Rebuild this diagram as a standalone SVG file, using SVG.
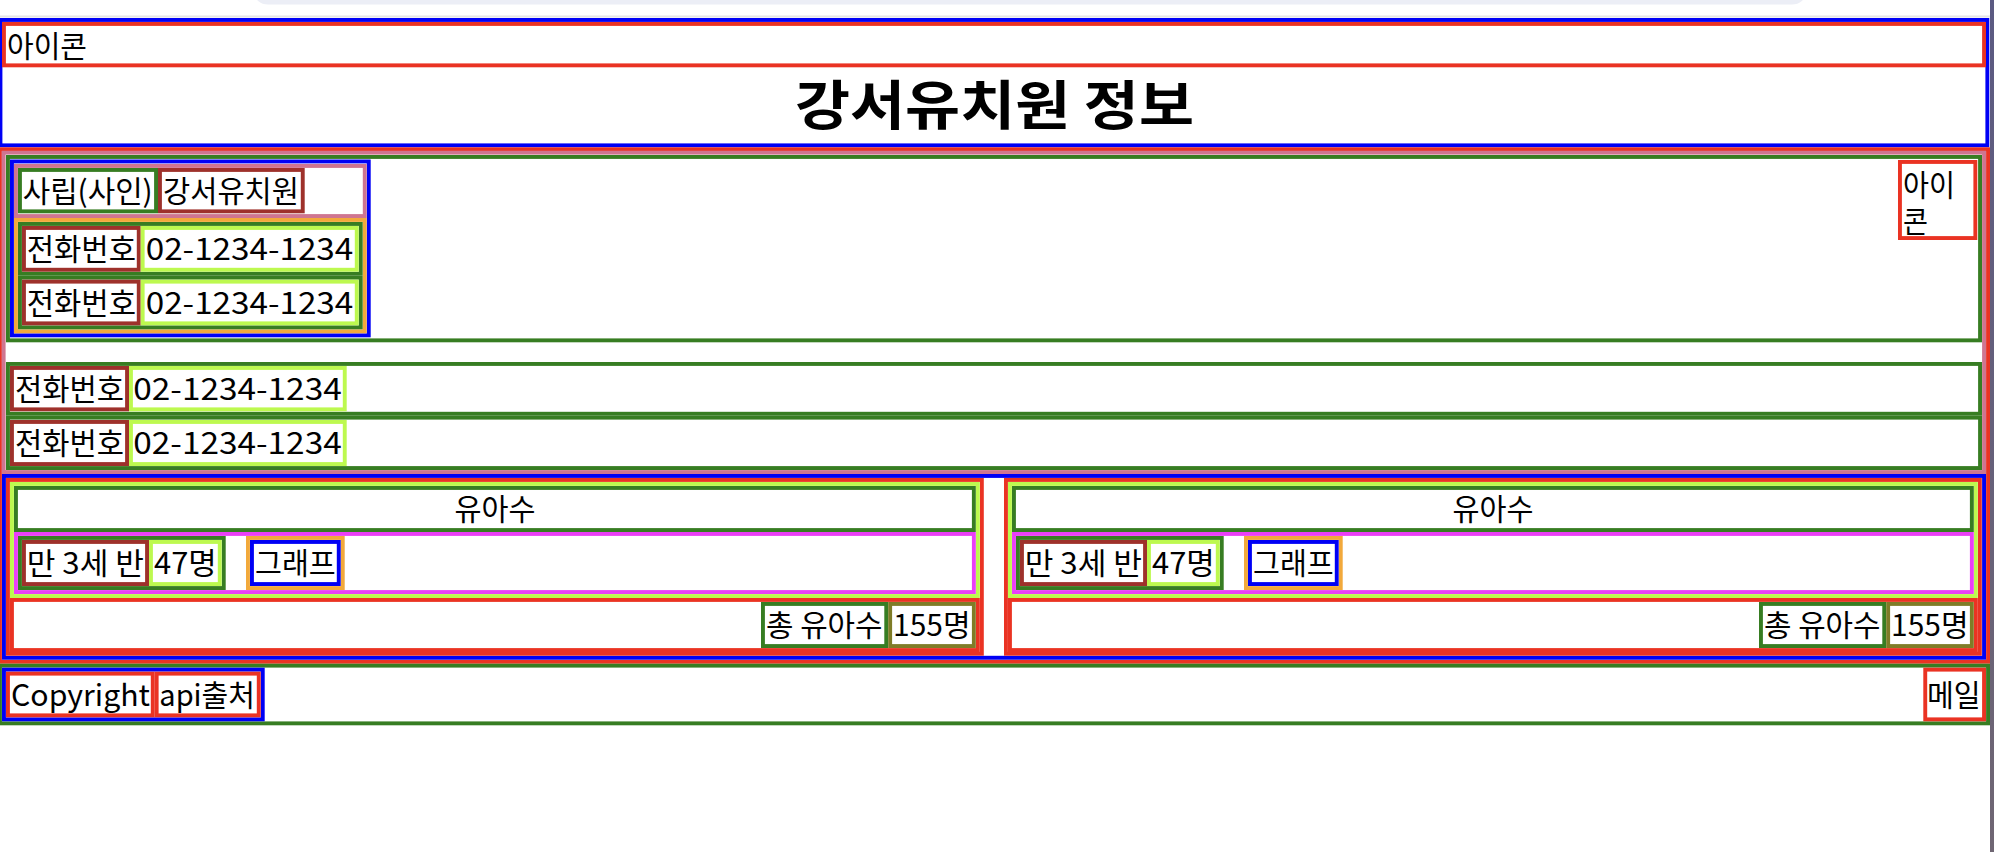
<svg xmlns="http://www.w3.org/2000/svg" width="1994" height="852" viewBox="0 0 1994 852">
<defs>
<linearGradient id="sb" x1="0" y1="0" x2="0" y2="1"><stop offset="0" stop-color="#5b5a82"/><stop offset="1" stop-color="#6f6673"/></linearGradient>
</defs>
<style>
rect.b{fill:#fff;stroke-width:3.9}
.red{stroke:#ea3323}.blue{stroke:#0000f5}.grn{stroke:#377d22}.pnk{stroke:#cf7590}
.lim{stroke:#bdf94f}.mag{stroke:#ea3ff7}.org{stroke:#f2a93b}.brn{stroke:#9e312b}.olv{stroke:#7f7c27}
text{font-family:"Noto Sans CJK KR","Noto Sans",sans-serif;font-size:30px;fill:#000}
text.h1{font-size:53px;font-weight:bold}
</style>
<rect x="0" y="0" width="1994" height="852" fill="#fff"/>
<rect x="254" y="-20" width="1552" height="24.5" rx="14" fill="#eceef6"/>
<rect x="0" y="15.5" width="1990" height="2" fill="#e4e4e6"/>
<rect x="1990" y="0" width="4" height="852" fill="url(#sb)"/>

<g id="header">
<rect class="b blue" x="0.45" y="19.95" width="1986.9" height="125.4"/>
<g id="header-icon"><rect class="b red" x="3.95" y="23.95" width="1980.1" height="41.4"/><text x="7" y="57" textLength="80" lengthAdjust="spacingAndGlyphs">아이콘</text></g>
<text class="h1" x="795" y="124.5" textLength="399" lengthAdjust="spacingAndGlyphs">강서유치원 정보</text>
</g>

<g id="main">
<rect class="b red" x="-0.05" y="149.25" width="1988.1" height="512.5"/>
<rect class="b pnk" x="3.65" y="152.65" width="1980.4" height="319.4"/>
<g id="info-top">
<rect class="b grn" x="7.95" y="156.95" width="1972.1" height="183.4"/>
<g id="info-card">
<rect class="b blue" x="11.95" y="161.45" width="356.8" height="173.9"/>
<rect class="b pnk" x="15.95" y="165.95" width="348.8" height="50.1"/>
<g id="type"><rect class="b grn" x="19.95" y="169.95" width="136.1" height="41.4"/><text x="22.7" y="202" textLength="130" lengthAdjust="spacingAndGlyphs">사립(사인)</text></g>
<g id="name"><rect class="b brn" x="159.95" y="169.95" width="142.8" height="41.4"/><text x="163" y="202" textLength="136" lengthAdjust="spacingAndGlyphs">강서유치원</text></g>
<rect class="b org" x="15.95" y="219.95" width="348.8" height="111.4"/>
<g id="phone1">
<rect class="b grn" x="19.95" y="223.95" width="340.8" height="49.8"/>
<rect class="b brn" x="23.95" y="227.95" width="114.8" height="41.8"/>
<rect class="b lim" x="142.65" y="227.95" width="214.1" height="41.8"/>
<text x="26.7" y="260" textLength="109.3" lengthAdjust="spacingAndGlyphs">전화번호</text>
<text x="145.7" y="260" textLength="207.6" lengthAdjust="spacingAndGlyphs">02-1234-1234</text>
</g>
<g id="phone2">
<rect class="b grn" x="19.95" y="277.65" width="340.8" height="49.7"/>
<rect class="b brn" x="23.95" y="281.65" width="114.8" height="41.7"/>
<rect class="b lim" x="142.65" y="281.65" width="214.1" height="41.7"/>
<text x="26.7" y="313.7" textLength="109.3" lengthAdjust="spacingAndGlyphs">전화번호</text>
<text x="145.7" y="313.7" textLength="207.6" lengthAdjust="spacingAndGlyphs">02-1234-1234</text>
</g>
</g>
<g id="info-icon">
<rect class="b red" x="1899.95" y="161.95" width="75.4" height="76.1"/>
<text x="1903" y="196"><tspan x="1903" y="196" textLength="52" lengthAdjust="spacingAndGlyphs">아이</tspan><tspan x="1903" y="232" textLength="25" lengthAdjust="spacingAndGlyphs">콘</tspan></text>
</g>
</g>
<g id="phone3">
<rect class="b grn" x="7.95" y="363.95" width="1972.1" height="49.8"/>
<rect class="b brn" x="11.95" y="367.95" width="115.1" height="41.4"/>
<rect class="b lim" x="130.95" y="367.95" width="213.8" height="41.4"/>
<text x="15" y="400" textLength="109" lengthAdjust="spacingAndGlyphs">전화번호</text>
<text x="133.3" y="400" textLength="208.4" lengthAdjust="spacingAndGlyphs">02-1234-1234</text>
</g>
<g id="phone4">
<rect class="b grn" x="7.95" y="417.65" width="1972.1" height="50.4"/>
<rect class="b brn" x="11.95" y="421.95" width="115.1" height="42.1"/>
<rect class="b lim" x="130.95" y="421.95" width="213.8" height="42.1"/>
<text x="15" y="454" textLength="109" lengthAdjust="spacingAndGlyphs">전화번호</text>
<text x="133.3" y="454" textLength="208.4" lengthAdjust="spacingAndGlyphs">02-1234-1234</text>
</g>

<g id="kids">
<rect class="b blue" x="3.95" y="475.95" width="1980.1" height="181.8"/>
<g id="kids-left">
<rect class="b red" x="7.95" y="479.95" width="973.9" height="173.8"/>
<rect class="b lim" x="11.95" y="483.95" width="965.9" height="112.1"/>
<rect class="b grn" x="15.95" y="487.95" width="957.9" height="42.1"/>
<text x="494.9" y="520" text-anchor="middle" textLength="81" lengthAdjust="spacingAndGlyphs">유아수</text>
<rect class="b mag" x="15.95" y="533.95" width="957.9" height="58.1"/>
<rect class="b grn" x="19.95" y="537.95" width="203.8" height="50.1"/>
<rect class="b brn" x="23.95" y="541.95" width="123.1" height="42.1"/>
<rect class="b lim" x="150.95" y="541.95" width="68.8" height="42.1"/>
<text x="26.7" y="574" textLength="117.3" lengthAdjust="spacingAndGlyphs">만 3세 반</text>
<text x="154" y="574" textLength="62.7" lengthAdjust="spacingAndGlyphs">47명</text>
<rect class="b org" x="247.95" y="537.95" width="94.8" height="50.1"/>
<rect class="b blue" x="251.95" y="541.95" width="86.8" height="42.1"/>
<text x="255" y="574" textLength="80.7" lengthAdjust="spacingAndGlyphs">그래프</text>
<rect class="b red" x="11.95" y="599.95" width="965.9" height="50.1"/>
<rect class="b grn" x="762.95" y="603.95" width="123.3" height="42.1"/>
<rect class="b olv" x="890.15" y="603.95" width="83.7" height="42.1"/>
<text x="766" y="636" textLength="116.5" lengthAdjust="spacingAndGlyphs">총 유아수</text>
<text x="893" y="636" textLength="77.5" lengthAdjust="spacingAndGlyphs">155명</text>
</g>
<g id="kids-right" transform="translate(998 0)">
<rect class="b red" x="7.95" y="479.95" width="973.9" height="173.8"/>
<rect class="b lim" x="11.95" y="483.95" width="965.9" height="112.1"/>
<rect class="b grn" x="15.95" y="487.95" width="957.9" height="42.1"/>
<text x="494.9" y="520" text-anchor="middle" textLength="81" lengthAdjust="spacingAndGlyphs">유아수</text>
<rect class="b mag" x="15.95" y="533.95" width="957.9" height="58.1"/>
<rect class="b grn" x="19.95" y="537.95" width="203.8" height="50.1"/>
<rect class="b brn" x="23.95" y="541.95" width="123.1" height="42.1"/>
<rect class="b lim" x="150.95" y="541.95" width="68.8" height="42.1"/>
<text x="26.7" y="574" textLength="117.3" lengthAdjust="spacingAndGlyphs">만 3세 반</text>
<text x="154" y="574" textLength="62.7" lengthAdjust="spacingAndGlyphs">47명</text>
<rect class="b org" x="247.95" y="537.95" width="94.8" height="50.1"/>
<rect class="b blue" x="251.95" y="541.95" width="86.8" height="42.1"/>
<text x="255" y="574" textLength="80.7" lengthAdjust="spacingAndGlyphs">그래프</text>
<rect class="b red" x="11.95" y="599.95" width="965.9" height="50.1"/>
<rect class="b grn" x="762.95" y="603.95" width="123.3" height="42.1"/>
<rect class="b olv" x="890.15" y="603.95" width="83.7" height="42.1"/>
<text x="766" y="636" textLength="116.5" lengthAdjust="spacingAndGlyphs">총 유아수</text>
<text x="893" y="636" textLength="77.5" lengthAdjust="spacingAndGlyphs">155명</text>
</g>
</g>
</g>

<g id="footer">
<rect class="b grn" x="-0.05" y="665.65" width="1988.1" height="57.7"/>
<g id="footer-left">
<rect class="b blue" x="3.95" y="669.65" width="258.8" height="49.7"/>
<rect class="b red" x="7.95" y="673.65" width="144.8" height="41.7"/>
<text x="11" y="706" textLength="139" lengthAdjust="spacingAndGlyphs">Copyright</text>
<rect class="b red" x="156.65" y="673.65" width="102.1" height="41.7"/>
<text x="159.3" y="706" textLength="95.7" lengthAdjust="spacingAndGlyphs">api출처</text>
</g>
<g id="footer-mail">
<rect class="b red" x="1925.25" y="669.65" width="58.8" height="49.7"/>
<text x="1927" y="706" textLength="53.7" lengthAdjust="spacingAndGlyphs">메일</text>
</g>
</g>
<g id="connectors"></g>
</svg>
